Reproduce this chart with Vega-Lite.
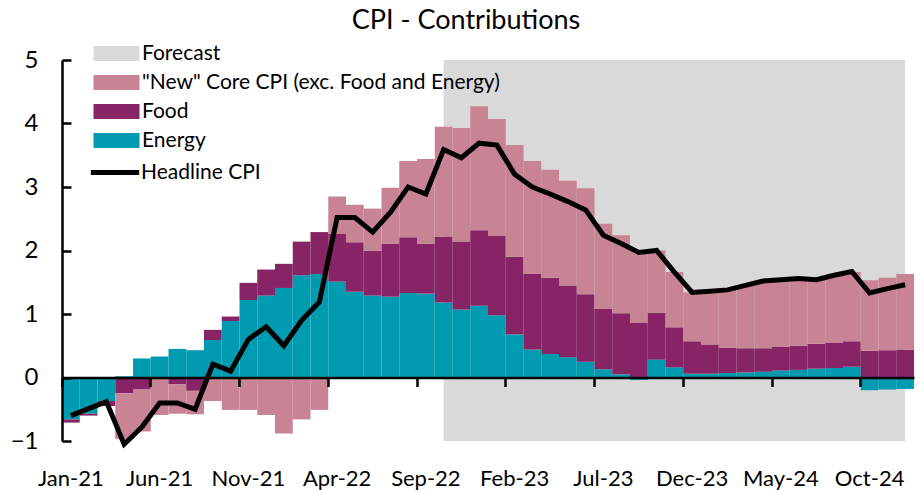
{
  "$schema": "https://vega.github.io/schema/vega-lite/v6.json",
  "width": 852,
  "height": 381,
  "autosize": {"type": "none"},
  "padding": {"left": 62, "top": 60, "right": 7, "bottom": 49},
  "background": "white",
  "title": {"text": "CPI - Contributions", "font": "Lato", "fontSize": 27, "fontWeight": "normal", "color": "black", "frame": "group", "anchor": "middle", "dx": -22, "offset": 6},
  "config": {
    "view": {"stroke": null},
    "font": "Lato",
    "legend": {
      "orient": "none", "legendX": 42,
      "title": null, "labelLimit": 0,
      "symbolSize": 529, "rowPadding": 6, "symbolOpacity": 1,
      "labelFont": "Lato", "labelFontSize": 21, "labelColor": "black", "labelOffset": 13
    }
  },
  "data": {"values": [
    {"m": "Jan-21", "Energy": -0.66, "Food": -0.05, "NewCore": 0, "H": -0.6, "fc": false},
    {"m": "Feb-21", "Energy": -0.57, "Food": -0.03, "NewCore": 0, "H": -0.49, "fc": false},
    {"m": "Mar-21", "Energy": -0.37, "Food": -0.08, "NewCore": 0, "H": -0.38, "fc": false},
    {"m": "Apr-21", "Energy": 0.02, "Food": -0.25, "NewCore": -0.72, "H": -1.05, "fc": false},
    {"m": "May-21", "Energy": 0.3, "Food": -0.19, "NewCore": -0.66, "H": -0.78, "fc": false},
    {"m": "Jun-21", "Energy": 0.33, "Food": -0.02, "NewCore": -0.57, "H": -0.4, "fc": false},
    {"m": "Jul-21", "Energy": 0.45, "Food": -0.11, "NewCore": -0.46, "H": -0.4, "fc": false},
    {"m": "Aug-21", "Energy": 0.43, "Food": -0.21, "NewCore": -0.37, "H": -0.5, "fc": false},
    {"m": "Sep-21", "Energy": 0.59, "Food": 0.16, "NewCore": -0.37, "H": 0.21, "fc": false},
    {"m": "Oct-21", "Energy": 0.89, "Food": 0.07, "NewCore": -0.51, "H": 0.1, "fc": false},
    {"m": "Nov-21", "Energy": 1.22, "Food": 0.27, "NewCore": -0.51, "H": 0.6, "fc": false},
    {"m": "Dec-21", "Energy": 1.29, "Food": 0.41, "NewCore": -0.59, "H": 0.8, "fc": false},
    {"m": "Jan-22", "Energy": 1.41, "Food": 0.38, "NewCore": -0.88, "H": 0.5, "fc": false},
    {"m": "Feb-22", "Energy": 1.61, "Food": 0.53, "NewCore": -0.66, "H": 0.9, "fc": false},
    {"m": "Mar-22", "Energy": 1.63, "Food": 0.66, "NewCore": -0.51, "H": 1.19, "fc": false},
    {"m": "Apr-22", "Energy": 1.51, "Food": 0.75, "NewCore": 0.59, "H": 2.52, "fc": false},
    {"m": "May-22", "Energy": 1.35, "Food": 0.78, "NewCore": 0.59, "H": 2.52, "fc": false},
    {"m": "Jun-22", "Energy": 1.29, "Food": 0.71, "NewCore": 0.66, "H": 2.29, "fc": false},
    {"m": "Jul-22", "Energy": 1.27, "Food": 0.84, "NewCore": 0.88, "H": 2.6, "fc": false},
    {"m": "Aug-22", "Energy": 1.33, "Food": 0.88, "NewCore": 1.2, "H": 3.0, "fc": false},
    {"m": "Sep-22", "Energy": 1.32, "Food": 0.79, "NewCore": 1.33, "H": 2.89, "fc": false},
    {"m": "Oct-22", "Energy": 1.18, "Food": 1.04, "NewCore": 1.73, "H": 3.59, "fc": true},
    {"m": "Nov-22", "Energy": 1.07, "Food": 1.07, "NewCore": 1.79, "H": 3.46, "fc": true},
    {"m": "Dec-22", "Energy": 1.13, "Food": 1.19, "NewCore": 1.95, "H": 3.69, "fc": true},
    {"m": "Jan-23", "Energy": 0.98, "Food": 1.25, "NewCore": 1.84, "H": 3.66, "fc": true},
    {"m": "Feb-23", "Energy": 0.68, "Food": 1.22, "NewCore": 1.76, "H": 3.2, "fc": true},
    {"m": "Mar-23", "Energy": 0.44, "Food": 1.19, "NewCore": 1.78, "H": 3.0, "fc": true},
    {"m": "Apr-23", "Energy": 0.37, "Food": 1.2, "NewCore": 1.7, "H": 2.89, "fc": true},
    {"m": "May-23", "Energy": 0.32, "Food": 1.13, "NewCore": 1.65, "H": 2.77, "fc": true},
    {"m": "Jun-23", "Energy": 0.25, "Food": 1.06, "NewCore": 1.67, "H": 2.64, "fc": true},
    {"m": "Jul-23", "Energy": 0.13, "Food": 0.95, "NewCore": 1.34, "H": 2.24, "fc": true},
    {"m": "Aug-23", "Energy": 0.05, "Food": 0.96, "NewCore": 1.23, "H": 2.11, "fc": true},
    {"m": "Sep-23", "Energy": -0.04, "Food": 0.86, "NewCore": 1.13, "H": 1.97, "fc": true},
    {"m": "Oct-23", "Energy": 0.28, "Food": 0.74, "NewCore": 0.98, "H": 2.0, "fc": true},
    {"m": "Nov-23", "Energy": 0.16, "Food": 0.63, "NewCore": 0.87, "H": 1.66, "fc": true},
    {"m": "Dec-23", "Energy": 0.06, "Food": 0.51, "NewCore": 0.77, "H": 1.34, "fc": true},
    {"m": "Jan-24", "Energy": 0.06, "Food": 0.46, "NewCore": 0.84, "H": 1.36, "fc": true},
    {"m": "Feb-24", "Energy": 0.07, "Food": 0.4, "NewCore": 0.91, "H": 1.38, "fc": true},
    {"m": "Mar-24", "Energy": 0.08, "Food": 0.38, "NewCore": 0.99, "H": 1.45, "fc": true},
    {"m": "Apr-24", "Energy": 0.09, "Food": 0.37, "NewCore": 1.06, "H": 1.52, "fc": true},
    {"m": "May-24", "Energy": 0.11, "Food": 0.37, "NewCore": 1.06, "H": 1.54, "fc": true},
    {"m": "Jun-24", "Energy": 0.12, "Food": 0.38, "NewCore": 1.06, "H": 1.56, "fc": true},
    {"m": "Jul-24", "Energy": 0.14, "Food": 0.39, "NewCore": 1.01, "H": 1.54, "fc": true},
    {"m": "Aug-24", "Energy": 0.15, "Food": 0.4, "NewCore": 1.06, "H": 1.61, "fc": true},
    {"m": "Sep-24", "Energy": 0.17, "Food": 0.4, "NewCore": 1.09, "H": 1.67, "fc": true},
    {"m": "Oct-24", "Energy": -0.2, "Food": 0.42, "NewCore": 1.11, "H": 1.33, "fc": true},
    {"m": "Nov-24", "Energy": -0.19, "Food": 0.43, "NewCore": 1.14, "H": 1.4, "fc": true},
    {"m": "Dec-24", "Energy": -0.18, "Food": 0.44, "NewCore": 1.19, "H": 1.46, "fc": true}
  ]},
  "encoding": {
    "x": {
      "field": "m", "type": "ordinal",
      "scale": {"type": "band", "paddingInner": 0, "paddingOuter": 0, "domain": ["Jan-21","Feb-21","Mar-21","Apr-21","May-21","Jun-21","Jul-21","Aug-21","Sep-21","Oct-21","Nov-21","Dec-21","Jan-22","Feb-22","Mar-22","Apr-22","May-22","Jun-22","Jul-22","Aug-22","Sep-22","Oct-22","Nov-22","Dec-22","Jan-23","Feb-23","Mar-23","Apr-23","May-23","Jun-23","Jul-23","Aug-23","Sep-23","Oct-23","Nov-23","Dec-23","Jan-24","Feb-24","Mar-24","Apr-24","May-24","Jun-24","Jul-24","Aug-24","Sep-24","Oct-24","Nov-24","Dec-24"]},
      "axis": {
        "title": null, "orient": "bottom", "offset": -63.5, "zindex": 1,
        "values": ["Jan-21","Jun-21","Nov-21","Apr-22","Sep-22","Feb-23","Jul-23","Dec-23","May-24","Oct-24"],
        "bandPosition": 0, "labelAngle": 0,
        "domainColor": "black", "domainWidth": 2.5,
        "tickColor": "black", "tickWidth": 2.5, "tickSize": 9,
        "labelPadding": 82, "labelFont": "Lato", "labelFontSize": 22, "labelColor": "black",
        "labelOverlap": false,
        "grid": false
      }
    }
  },
  "layer": [
    {
      "transform": [{"filter": "datum.fc"}],
      "mark": {"type": "area", "opacity": 1},
      "encoding": {
        "y": {"datum": 5, "type": "quantitative"},
        "y2": {"datum": -1},
        "color": {
          "datum": "Forecast",
          "scale": {
            "domain": ["Forecast", "NewCore", "Food", "Energy"],
            "range": ["#d9d9d9", "#c88494", "#862466", "#009bb0"]
          },
          "legend": {
            "legendY": -19,
            "symbolType": "M-2,-0.65L2,-0.65L2,0.65L-2,0.65Z",
            "labelExpr": "datum.value == 'NewCore' ? '\"New\" Core CPI (exc. Food and Energy)' : datum.label"
          }
        }
      }
    },
    {
      "transform": [{"fold": ["Energy", "Food", "NewCore"], "as": ["series", "value"]}],
      "mark": {"type": "bar", "opacity": 1},
      "encoding": {
        "y": {
          "field": "value", "type": "quantitative", "stack": "zero",
          "scale": {"domain": [-1, 5], "nice": false, "zero": false},
          "axis": {
            "title": null, "values": [-1, 0, 1, 2, 3, 4, 5], "format": "d", "zindex": 1,
            "domainColor": "black", "domainWidth": 2.5,
            "tickColor": "black", "tickWidth": 2.5, "tickSize": -9,
            "labelPadding": 33, "labelFont": "Lato", "labelFontSize": 24, "labelColor": "black",
            "grid": false
          }
        },
        "color": {"field": "series", "type": "nominal"},
        "order": {"field": "series", "sort": "ascending"}
      }
    },
    {
      "mark": {"type": "line", "strokeWidth": 5, "strokeJoin": "miter"},
      "encoding": {
        "y": {"field": "H", "type": "quantitative"},
        "stroke": {
          "datum": "Headline CPI",
          "scale": {"domain": ["Headline CPI"], "range": ["#000000"]},
          "legend": {
            "legendX": 39,
            "legendY": 98.5,
            "labelOffset": 12,
            "symbolType": "M-2.1,0L2.1,0",
            "symbolStrokeWidth": 5,
            "symbolStrokeColor": "#000000"
          }
        }
      }
    }
  ]
}
